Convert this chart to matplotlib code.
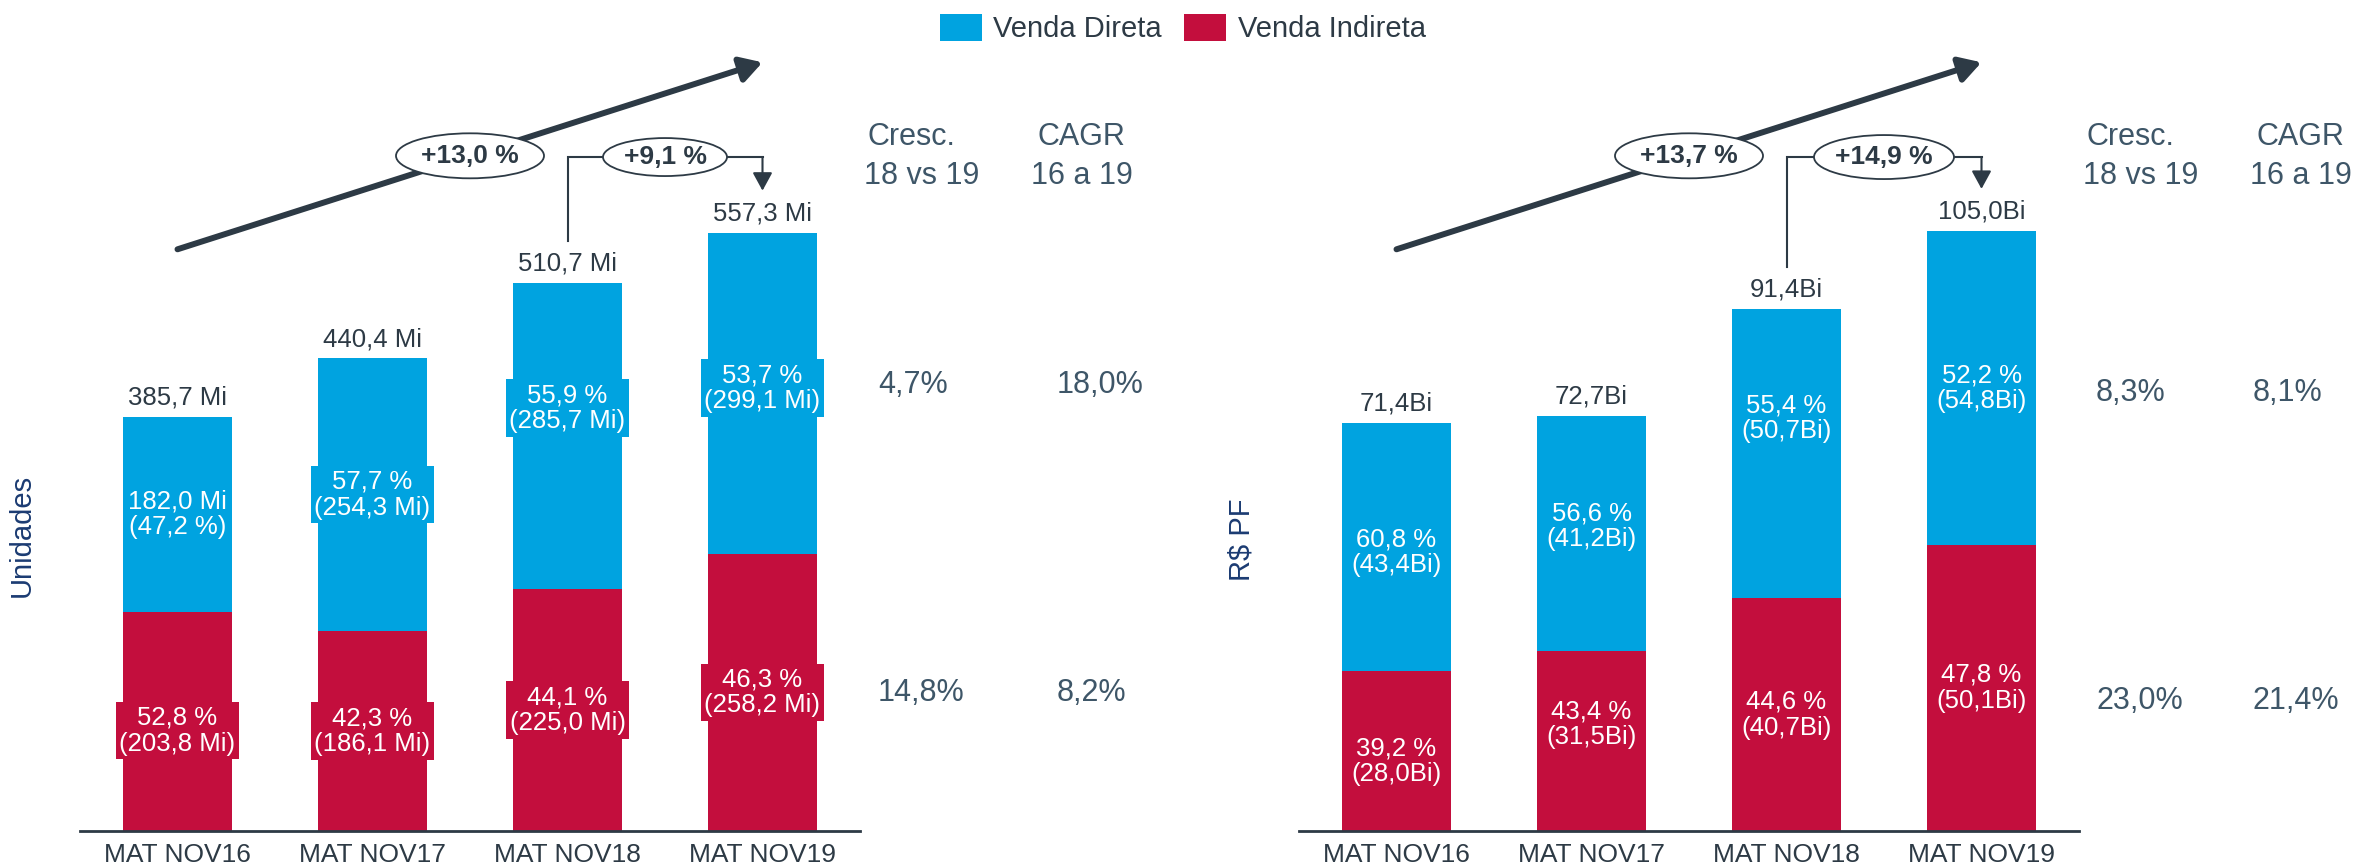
import matplotlib
matplotlib.use('Agg')
import matplotlib.pyplot as plt
from matplotlib.patches import Ellipse, Patch

plt.rcParams['font.family'] = ['Liberation Sans', 'DejaVu Sans']

# data
categories = ['MAT NOV16', 'MAT NOV17', 'MAT NOV18', 'MAT NOV19']

units_direct = [182.0, 254.3, 285.7, 299.1]
units_indirect = [203.8, 186.1, 225.0, 258.2]
units_total = [385.7, 440.4, 510.7, 557.3]
units_direct_pct = [47.2, 57.7, 55.9, 53.7]
units_indirect_pct = [52.8, 42.3, 44.1, 46.3]
units_cagr = 13.0
units_step = 9.1
units_cresc = [4.7, 14.8]
units_cagr_rows = [18.0, 8.2]

rev_direct = [43.4, 41.2, 50.7, 54.8]
rev_indirect = [28.0, 31.5, 40.7, 50.1]
rev_total = [71.4, 72.7, 91.4, 105.0]
rev_direct_pct = [60.8, 56.6, 55.4, 52.2]
rev_indirect_pct = [39.2, 43.4, 44.6, 47.8]
rev_cagr = 13.7
rev_step = 14.9
rev_cresc = [8.3, 23.0]
rev_cagr_rows = [8.1, 21.4]

W, H = 2369, 868
BASE = 831          # baseline, px from top
BLUE = '#00a3e0'
RED = '#c30e3d'
DARK = '#2d3a45'
SLATE = '#3e5668'
NAVY = '#1b3b72'


def br(v):
    return f'{v:.1f}'.replace('.', ',')


def fx(x):
    return x / W


def fy(y):
    return 1 - y / H


fig = plt.figure(figsize=(W / 100, H / 100), dpi=100)


def panel(left, direct, indirect, total, dpct, ipct, unit, sep, ymax,
          cagr, step, dlift, ilift, swap_first, step_size):
    ax = fig.add_axes([fx(left), fy(BASE), 780 / W, BASE / H])
    x = list(range(len(categories)))
    ax.bar(x, indirect, width=0.56, color=RED, zorder=2)
    ax.bar(x, direct, bottom=indirect, width=0.56, color=BLUE, zorder=2)
    ax.set_xlim(-0.5, 3.5)
    ax.set_ylim(0, ymax)
    for s in ['top', 'right', 'left']:
        ax.spines[s].set_visible(False)
    ax.spines['bottom'].set_color(DARK)
    ax.spines['bottom'].set_linewidth(2)
    ax.set_yticks([])
    ax.set_xticks(x)
    ax.set_xticklabels(categories, fontsize=19, color=DARK)
    ax.tick_params(axis='x', length=0, pad=9)

    ppy = BASE / ymax
    for i in x:
        if swap_first and i == 0:
            dl = f'{br(direct[i])}{sep}Mi\n({br(dpct[i])} %)'
        else:
            dl = f'{br(dpct[i])} %\n({br(direct[i])}{sep}{unit})'
        il = f'{br(ipct[i])} %\n({br(indirect[i])}{sep}{unit})'
        ax.text(i, indirect[i] + direct[i] / 2 + dlift[i] / ppy, dl,
                ha='center', va='center', color='white', fontsize=18.5,
                linespacing=1.1, zorder=3,
                bbox=dict(boxstyle='square,pad=0.15', fc=BLUE, ec='none'))
        ax.text(i, indirect[i] / 2 + ilift[i] / ppy, il, ha='center', va='center',
                color='white', fontsize=18.5, linespacing=1.1, zorder=3,
                bbox=dict(boxstyle='square,pad=0.15', fc=RED, ec='none'))
        ax.annotate(f'{br(total[i])}{sep}{unit}', (i, total[i]), xytext=(0, 5),
                    textcoords='offset points', ha='center', va='bottom',
                    fontsize=18.5, color=DARK)

    # big trend arrow with CAGR ellipse
    y0, y1 = 0.70 * ymax, 0.925 * ymax
    ax.annotate('', xy=(3, y1), xytext=(0, y0),
                arrowprops=dict(arrowstyle='-|>,head_length=0.65,head_width=0.38',
                                lw=4.3, color=DARK, shrinkA=0, shrinkB=0,
                                mutation_scale=20), annotation_clip=False)
    ym = (y0 + y1) / 2
    ax.add_patch(Ellipse((1.5, ym), 148 / 195, 45 / ppy, fc='white', ec=DARK,
                         lw=1.3, zorder=5, clip_on=False))
    ax.text(1.5, ym, f'+{br(cagr)} %', ha='center', va='center',
            fontsize=19, fontweight='bold', color=DARK, zorder=6)

    # bracket between the last two bars
    gap = 42 / ppy
    level = 0.811 * ymax
    ax.plot([2, 2, 3], [total[2] + gap, level, level], color=DARK, lw=1.5,
            zorder=4, clip_on=False, solid_joinstyle='miter')
    ax.annotate('', xy=(3, total[3] + gap), xytext=(3, level),
                arrowprops=dict(arrowstyle='-|>,head_length=0.55,head_width=0.3',
                                lw=1.5, color=DARK, shrinkA=0, shrinkB=0,
                                mutation_scale=20), annotation_clip=False)
    ax.add_patch(Ellipse((2.5, level), step_size[0] / 195, step_size[1] / ppy,
                         fc='white', ec=DARK, lw=1.3, zorder=5, clip_on=False))
    ax.text(2.5, level, f'+{br(step)} %', ha='center', va='center',
            fontsize=19, fontweight='bold', color=DARK, zorder=6)
    return ax


panel(80, units_direct, units_indirect, units_total, units_direct_pct,
      units_indirect_pct, 'Mi', ' ', 774, units_cagr, units_step,
      [0, 0, 28, 5], [-9, 0, 0, 0], True, (124, 38))
panel(1299, rev_direct, rev_indirect, rev_total, rev_direct_pct,
      rev_indirect_pct, 'Bi', '', 145.4, rev_cagr, rev_step,
      [-5, 7, 35, 0], [-10, 17, 0, 0], False, (140, 44))

# side columns
for dx, cresc, cagr_rows, vx, vy in [
        (0, units_cresc, units_cagr_rows, (878, 1057), (393, 701)),
        (1219, rev_cresc, rev_cagr_rows, (2096, 2253), (401, 709))]:
    fig.text(fx(911 + dx), fy(145), 'Cresc.', ha='center', va='baseline',
             fontsize=22, color=SLATE)
    fig.text(fx(922 + dx), fy(184), '18 vs 19', ha='center', va='baseline',
             fontsize=22, color=SLATE)
    fig.text(fx(1081 + dx), fy(145), 'CAGR', ha='center', va='baseline',
             fontsize=22, color=SLATE)
    fig.text(fx(1082 + dx), fy(184), '16 a 19', ha='center', va='baseline',
             fontsize=22, color=SLATE)
    for k in range(2):
        fig.text(fx(vx[0]), fy(vy[k]), f'{br(cresc[k])}%', ha='left',
                 va='baseline', fontsize=22, color=SLATE)
        fig.text(fx(vx[1]), fy(vy[k]), f'{br(cagr_rows[k])}%', ha='left',
                 va='baseline', fontsize=22, color=SLATE)

fig.text(fx(22), fy(535), 'Unidades', rotation=90, ha='center', va='center',
         fontsize=21, color=NAVY)
fig.text(fx(1241), fy(540), 'R$ PF', rotation=90, ha='center', va='center',
         fontsize=21, color=NAVY)

handles = [Patch(fc=BLUE, label='Venda Direta'), Patch(fc=RED, label='Venda Indireta')]
fig.legend(handles=handles, loc='center left', bbox_to_anchor=(fx(940), fy(28.5)),
           ncol=2, frameon=False, fontsize=21, handlelength=1.45,
           handleheight=1.06, handletextpad=0.38, columnspacing=0.76,
           borderpad=0, borderaxespad=0, labelcolor=DARK)

fig.savefig('out.png', dpi=100)
